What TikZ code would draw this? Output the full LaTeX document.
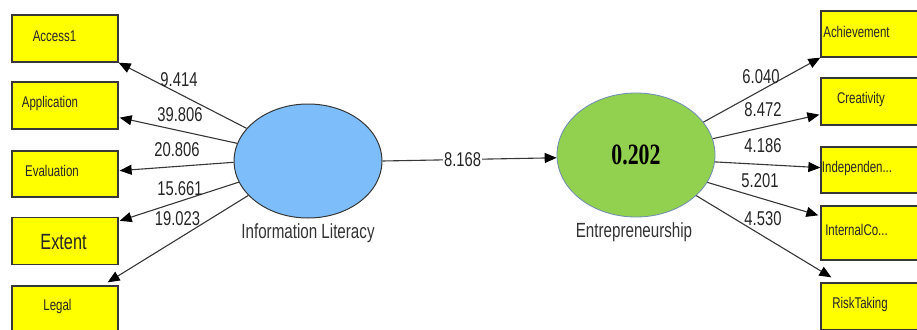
\documentclass[tikz,border=0pt]{standalone}
\usepackage{fontspec}
\setmainfont{Liberation Sans}
\newfontfamily\narrowsans[FakeStretch=0.74]{Liberation Sans}
\newfontfamily\narrowserif[FakeStretch=0.74]{Liberation Serif}
\usetikzlibrary{shapes.geometric,arrows.meta,calc}
\definecolor{boxyellow}{RGB}{255,255,0}
\definecolor{ilblue}{RGB}{125,190,250}
\definecolor{engreen}{RGB}{146,208,80}
\definecolor{edgegray}{RGB}{55,55,55}
\definecolor{engborder}{RGB}{110,140,180}
\tikzset{
  indbox/.style={draw=edgegray, line width=1.3pt, fill=boxyellow, rectangle, inner sep=0pt, minimum height=47pt, minimum width=106pt},
  rbox/.style={indbox, minimum width=112pt},
  boxtext/.style={font=\narrowsans\fontsize{15.5}{16}\selectfont, text=black!85, inner sep=0pt},
  bigboxtext/.style={font=\narrowsans\fontsize{22}{24}\selectfont, text=black!85, inner sep=0pt},
  numlbl/.style={font=\narrowsans\fontsize{20}{22}\selectfont, text=black!85, inner sep=1pt},
  conlbl/.style={font=\narrowsans\fontsize{20.5}{22}\selectfont, text=black!80, inner sep=0pt},
  arr/.style={draw=edgegray, line width=1.1pt, -{Triangle[length=12pt,width=10pt,color=black]}},
}
\begin{document}
\begin{tikzpicture}[x=1pt,y=-1pt]
\useasboundingbox (0,0) rectangle (917,329);
\clip (0,0) rectangle (917,329);
\fill[white] (0,0) rectangle (917,329);

% left boxes
\node[indbox] (acc) at (65,38.5) {};
\node[indbox] (app) at (65,105.5) {};
\node[indbox, minimum height=46pt] (eva) at (65,174) {};
\node[indbox] (ext) at (65,241) {};
\node[indbox] (leg) at (65,309.5) {};
\node[boxtext] (accT) at (54.5,36) {Access1};
\node[boxtext] (appT) at (50,103) {Application};
\node[boxtext] (evaT) at (52,171) {Evaluation};
\node[bigboxtext] (extT) at (63.5,242) {Extent};
\node[boxtext] (legT) at (57.5,306) {Legal};

% right boxes
\node[rbox, minimum height=46pt] (ach) at (877,34) {};
\node[rbox] (cre) at (877,101.5) {};
\node[rbox, minimum height=46pt] (ind) at (877,170) {};
\node[rbox, minimum height=54pt] (int) at (877,233) {};
\node[rbox] (ris) at (877,306.5) {};
\node[boxtext] (achT) at (856.5,32) {Achievement};
\node[boxtext] (creT) at (861,99) {Creativity};
\node[boxtext] (indT) at (857,168) {Independen...};
\node[boxtext] (intT) at (856.5,230) {InternalCo...};
\node[boxtext] (risT) at (860,304) {RiskTaking};

% latent variables
\node[ellipse, draw=edgegray, line width=1pt, fill=ilblue, minimum width=148pt, minimum height=114pt, inner sep=0pt] (IL) at (308,161) {};
\node[conlbl] (ILT) at (308,233) {Information Literacy};
\node[ellipse, draw=engborder, line width=0.8pt, fill=engreen, minimum width=158pt, minimum height=124pt, inner sep=0pt,
      font=\narrowserif\bfseries\fontsize{29.5}{30}\selectfont] (EN) at (636,155) {0.202};
\node[conlbl] (ENT) at (634,232) {Entrepreneurship};

% outer loadings (left)
\draw[arr] (IL.152.4) -- (acc.south east);
\draw[arr] (IL.166.5) -- ($(app.south east)+(1,-12)$);
\draw[arr] (IL.181.5) -- ($(eva.south east)+(1,-27)$);
\draw[arr] (IL.197.4) -- ($(ext.north east)+(1,4)$);
\draw[arr] (IL.210.5) -- ($(leg.north east)+(-11,-3)$);
\node[numlbl] (l1) at (179,80) {9.414};
\node[numlbl] (l2) at (180,115) {39.806};
\node[numlbl] (l3) at (177,150) {20.806};
\node[numlbl] (l4) at (180,189) {15.661};
\node[numlbl] (l5) at (177.5,219) {19.023};

% path
\draw[arr] (IL.0) -- node[numlbl, fill=white, pos=0.46] (l0) {8.168} (EN.182);

% outer loadings (right)
\draw[arr] (EN.26.9) -- (ach.south west);
\draw[arr] (EN.12.4) -- ($(cre.south west)+(-1,-11)$);
\draw[arr] (EN.-5.8) -- ($(ind.south west)+(0,-26)$);
\draw[arr] (EN.-21.3) -- ($(int.north west)+(-2,10)$);
\draw[arr] (EN.-34.5) -- ($(ris.north west)+(11,-5)$);
\node[numlbl] (r1) at (761,77) {6.040};
\node[numlbl] (r2) at (763,110) {8.472};
\node[numlbl] (r3) at (763,146) {4.186};
\node[numlbl] (r4) at (760,181) {5.201};
\node[numlbl] (r5) at (763,219) {4.530};
\end{tikzpicture}
\end{document}
